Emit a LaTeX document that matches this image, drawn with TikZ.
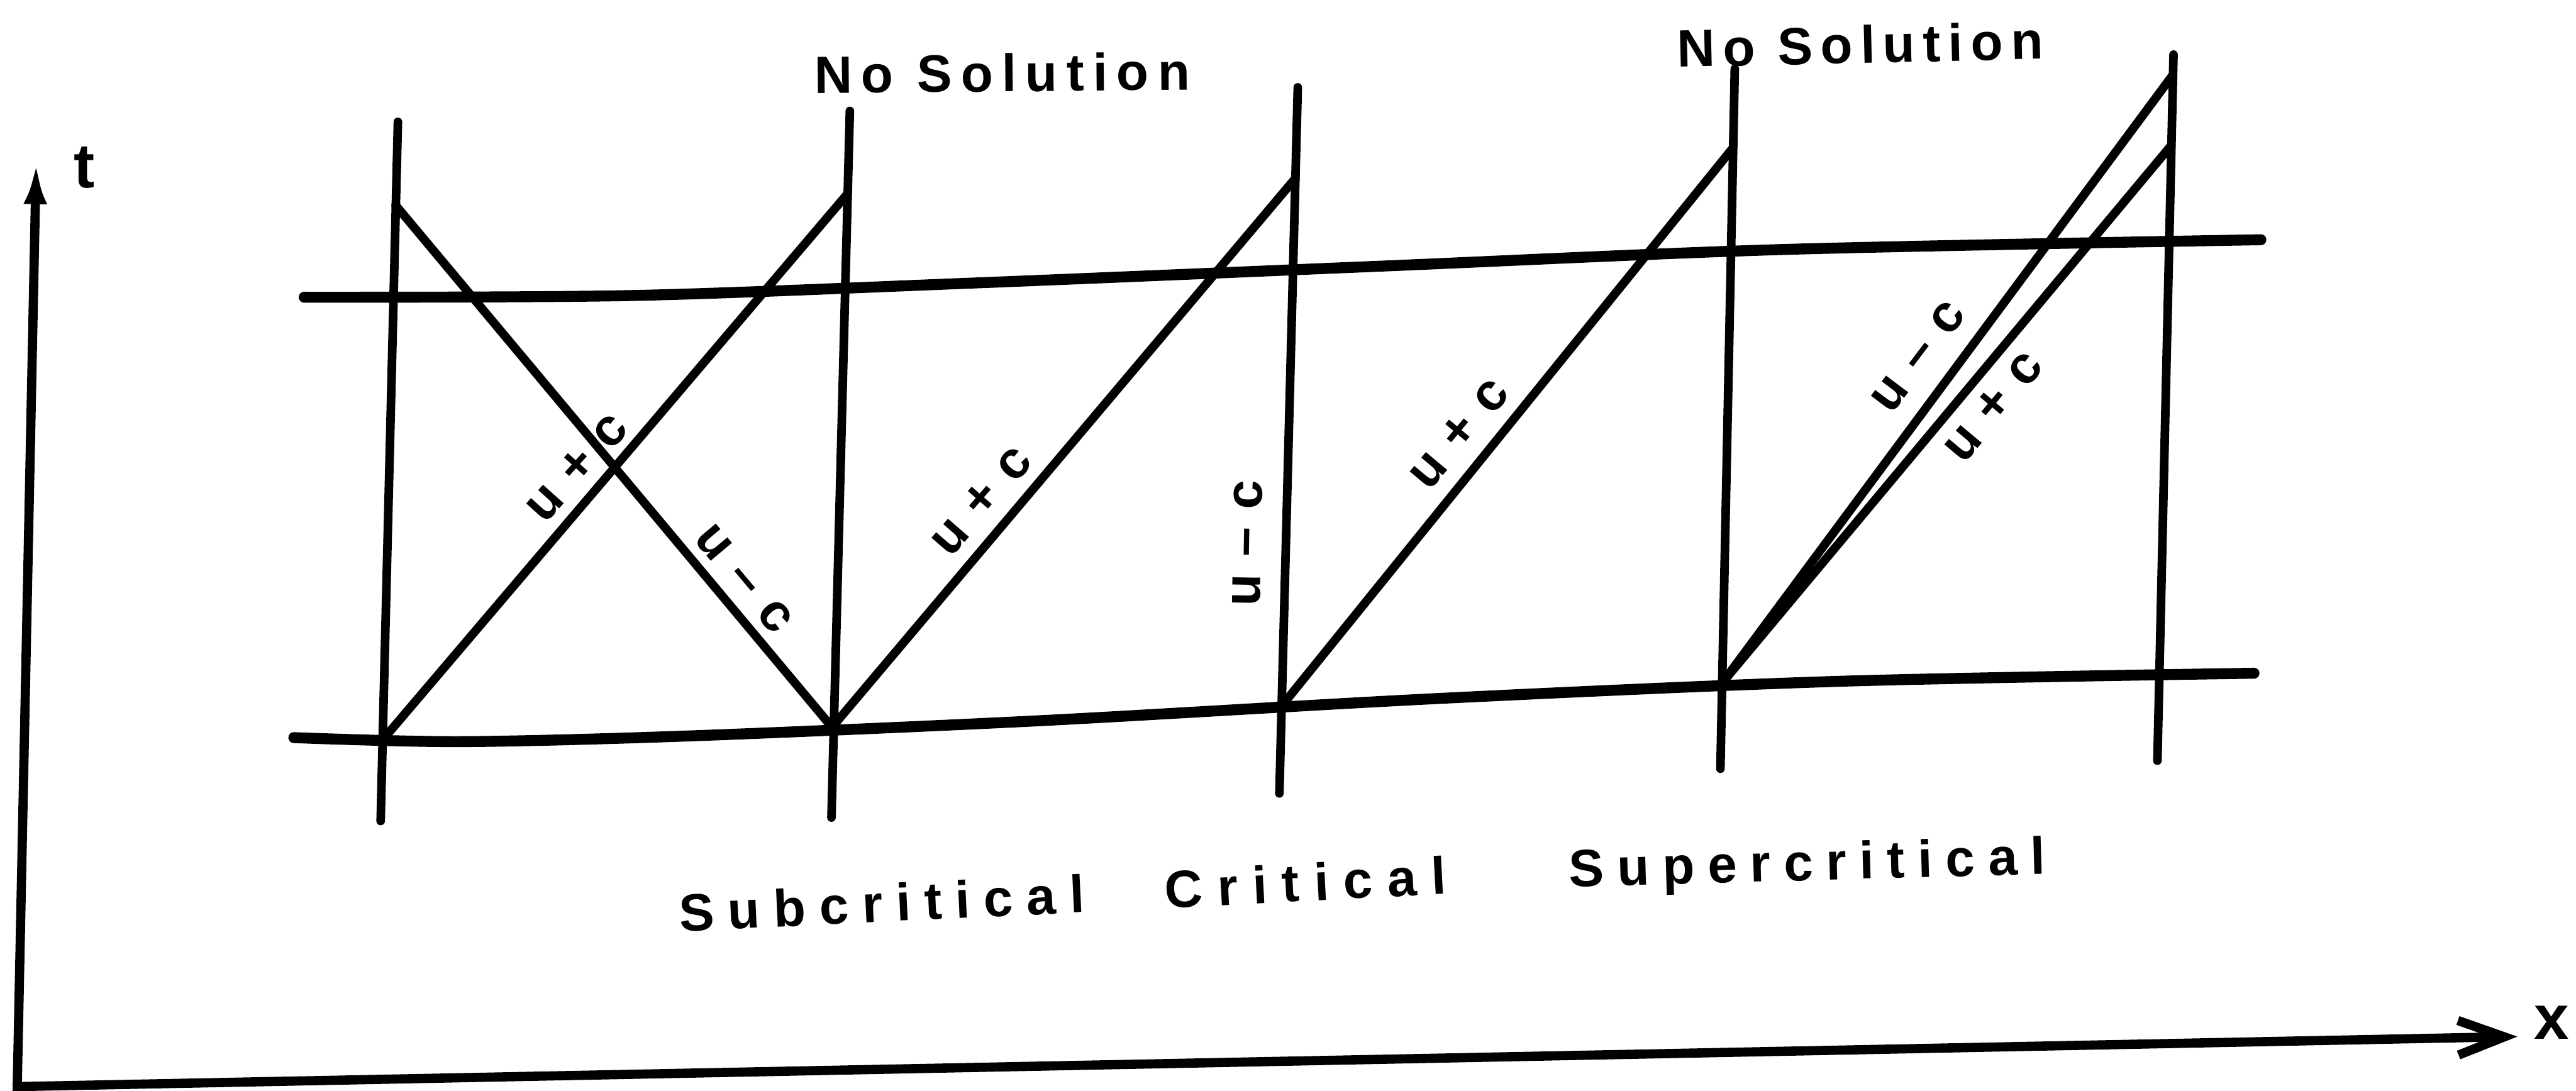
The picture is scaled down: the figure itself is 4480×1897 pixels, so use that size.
\documentclass[tikz,border=0pt]{standalone}
\usepackage{fontspec}
\setmainfont{Liberation Sans}
\usetikzlibrary{arrows.meta}
\tikzset{
  axisline/.style={line width=0.16cm, line join=miter},
  hline/.style={line width=0.19cm, line cap=round},
  vline/.style={line width=0.15cm, line cap=round},
  dline/.style={line width=0.15cm, line cap=round},
  bigtxt/.style={inner sep=0pt, anchor=base west},
  smalltxt/.style={inner sep=0pt, anchor=center, font=\fontsize{26}{30}\selectfont\bfseries},
  axtxt/.style={inner sep=0pt, anchor=base west, font=\fontsize{31}{36}\selectfont\bfseries}
}
\newcommand{\spaced}[2]{{\fontsize{26}{30}\selectfont\bfseries\addfontfeatures{LetterSpace=#1}#2}}
\newcommand{\gp}{\kern0.34em}
\begin{document}
\begin{tikzpicture}[x=0.01cm,y=-0.01cm]
\useasboundingbox (0,0) rectangle (4480,1897);
% axes
\coordinate (O) at (30,1890);
\coordinate (T) at (63,280);
\coordinate (X) at (4378,1803);
\draw[axisline, {Latex[length=0.75cm,width=0.4cm]}-{Straight Barb[length=0.8cm,width=0.6cm]}] (T) -- (O) -- (X);
\node[axtxt] (tl) at (128,327) {t};
\node[axtxt] (xl) at (4406,1807) {x};
% horizontal lines
\coordinate (h1a) at (529,517); \coordinate (h1z) at (3932,417);
\coordinate (h2a) at (511,1283); \coordinate (h2z) at (3920,1171);
\draw[hline] plot[smooth] coordinates {(h1a) (1100,514) (1700,492) (2400,463) (3100,434) (h1z)};
\draw[hline] plot[smooth] coordinates {(h2a) (800,1290) (1200,1280) (1800,1254) (2500,1215) (3200,1185) (h2z)};
% vertical lines
\coordinate (v1t) at (692,212);  \coordinate (v1b) at (662,1428);
\coordinate (v2t) at (1478,193); \coordinate (v2b) at (1446,1422);
\coordinate (v3t) at (2257,152); \coordinate (v3b) at (2225,1380);
\coordinate (v4t) at (3017,120); \coordinate (v4b) at (2992,1337);
\coordinate (v5t) at (3780,95);  \coordinate (v5b) at (3752,1323);
\foreach \i in {1,...,5} {\draw[vline] (v\i t) -- (v\i b);}
% characteristics
\coordinate (p1) at (668,1284);  \coordinate (q1) at (1474,337);
\coordinate (p2) at (688,357);   \coordinate (q2) at (1447,1265);
\coordinate (q3) at (2253,310);
\coordinate (p4) at (2229,1228); \coordinate (q4) at (3014,257);
\coordinate (p5) at (2995,1188); \coordinate (q5a) at (3779,130); \coordinate (q5b) at (3776,253);
\draw[dline] (p1) -- (q1);
\draw[dline] (p2) -- (q2);
\draw[dline] (q2) -- (q3);
\draw[dline] (p4) -- (q4);
\draw[dline] (p5) -- (q5a);
\draw[dline] (p5) -- (q5b);
% characteristic labels
\node[smalltxt, rotate=48] (l1) at (1003,813) {u\gp+\gp c};
\node[smalltxt, rotate=-50] (l2) at (1294,1007) {u\gp–\gp c};
\node[smalltxt, rotate=49] (l3) at (1706,871) {u\gp+\gp c};
\node[smalltxt, rotate=89] (lv) at (2169,945) {u\gp–\gp c};
\node[smalltxt, rotate=50] (l4) at (2537,754) {u\gp+\gp c};
\node[smalltxt, rotate=53] (ls1) at (3336,620) {u\gp–\gp c};
\node[smalltxt, rotate=50] (ls2) at (3466,707) {u\gp+\gp c};
% titles
\node[bigtxt, rotate=0.5] (ns1) at (1416,162) {\spaced{17}{No Solution}};
\node[bigtxt, rotate=1.3] (ns2) at (2917,117) {\spaced{15}{No Solution}};
\node[bigtxt, rotate=2.7] (sub) at (1182,1620) {\spaced{26}{Subcritical}};
\node[bigtxt, rotate=3] (cri) at (2027,1580) {\spaced{28}{Critical}};
\node[bigtxt, rotate=1.6] (sup) at (2729,1543) {\spaced{25}{Supercritical}};
\end{tikzpicture}
\end{document}
